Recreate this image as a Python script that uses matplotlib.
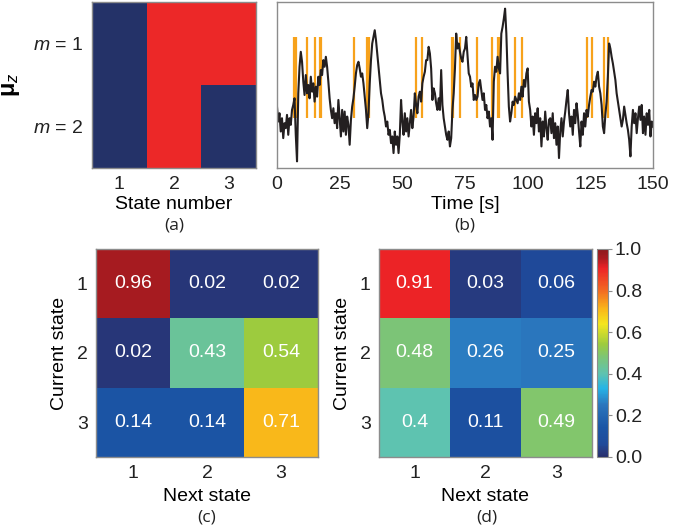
import numpy as np
import matplotlib
matplotlib.use("Agg")
import matplotlib.pyplot as plt
from matplotlib.colors import LinearSegmentedColormap, ListedColormap

plt.rcParams['font.family'] = ['Liberation Sans', 'DejaVu Sans']
plt.rcParams['mathtext.fontset'] = 'custom'
plt.rcParams['mathtext.rm'] = 'Liberation Sans'
plt.rcParams['mathtext.it'] = 'Liberation Sans:italic'
plt.rcParams['mathtext.bf'] = 'Liberation Sans:bold'

# ---- data ----
# (a) dipole pattern per state
state_labels = ['1', '2', '3']
mu_labels = ['$m$ = 1', '$m$ = 2']
mu_pattern = [[0, 1, 1],
              [0, 1, 0]]

# (b) trace, 0.5 s sampling, arbitrary units (0 = bottom, 100 = top)
signal = [
    37, 28, 33, 22, 30, 18, 27, 24, 32, 20,
    30, 26, 35, 38, 42, 20, 4, 45, 61, 70,
    64, 52, 44, 56, 45, 50, 42, 55, 46, 51,
    40, 49, 43, 55, 50, 59, 56, 65, 61, 67,
    61, 52, 42, 35, 30, 36, 27, 33, 24, 41,
    30, 19, 35, 22, 34, 20, 31, 26, 14, 29,
    37, 42, 49, 57, 62, 64, 60, 55, 57, 51,
    43, 35, 24, 33, 51, 65, 75, 79, 83, 77,
    69, 61, 53, 45, 41, 35, 31, 25, 28, 20,
    23, 15, 19, 9, 22, 14, 19, 9, 20, 41,
    28, 20, 33, 22, 30, 19, 27, 35, 24, 31,
    45, 38, 33, 43, 46, 40, 51, 55, 58, 65,
    65, 73, 69, 60, 41, 48, 45, 39, 35, 42,
    35, 59, 38, 30, 25, 20, 17, 22, 13, 18,
    35, 45, 60, 81, 72, 75, 70, 66, 64, 70,
    72, 79, 68, 57, 55, 49, 51, 41, 44, 41,
    43, 51, 53, 47, 41, 45, 35, 38, 30, 34,
    25, 30, 17, 52, 61, 58, 67, 60, 57, 81,
    85, 90, 96, 81, 57, 37, 28, 33, 40, 38,
    43, 41, 39, 45, 41, 49, 43, 53, 49, 57,
    60, 40, 35, 25, 31, 20, 33, 27, 36, 22,
    30, 13, 28, 19, 34, 24, 17, 29, 30, 21,
    33, 18, 27, 14, 25, 6, 22, 30, 19, 28,
    34, 41, 47, 33, 25, 31, 20, 35, 27, 39,
    32, 22, 13, 28, 20, 33, 25, 35, 31, 38,
    43, 47, 46, 52, 49, 55, 58, 49, 45, 38,
    25, 21, 32, 40, 55, 75, 72, 67, 63, 58,
    53, 45, 40, 35, 30, 25, 29, 37, 32, 27,
    23, 17, 7, 25, 35, 27, 33, 21, 30, 37,
    29, 38, 21, 31, 20, 33, 26, 35, 19, 28,
    25,
]
switch_times = [6.9, 7.5, 12.0, 15.3, 17.1, 17.5, 30.6, 35.8, 36.9, 55.4, 58.0,
                70.0, 70.4, 73.1, 79.9, 85.6, 88.1, 88.6, 95.0, 97.6,
                123.7, 125.6, 130.3, 132.0]
switch_low, switch_high = 30, 79

# (c), (d) transition matrices
trans_c = [[0.96, 0.02, 0.02],
           [0.02, 0.43, 0.54],
           [0.14, 0.14, 0.71]]
trans_d = [[0.91, 0.03, 0.06],
           [0.48, 0.26, 0.25],
           [0.40, 0.11, 0.49]]

# ---- styling ----
cmap = LinearSegmentedColormap.from_list('tm', [
    (0.00, '#252e6c'), (0.02, '#283779'), (0.06, '#1f4a9a'), (0.14, '#1b55a5'),
    (0.25, '#2b76bd'), (0.33, '#25b4e6'), (0.40, '#5ec3b0'), (0.48, '#7dc576'),
    (0.54, '#9ccb3f'), (0.64, '#f4e61e'), (0.71, '#fab81a'), (0.80, '#f26b22'),
    (0.91, '#ec2327'), (0.96, '#a71c21'), (1.00, '#8b1a1e')])
spine_col = '#8c8c8c'
fs = 14
cap_font = ['Open Sans', 'DejaVu Sans']

fig = plt.figure(figsize=(6.94, 5.31), dpi=100)

def style(ax):
    for s in ax.spines.values():
        s.set_color(spine_col)
        s.set_linewidth(1.0)
    ax.tick_params(length=0, labelsize=fs, colors='#222222', pad=6)

# (a)
ax_a = fig.add_axes([0.1326, 0.6836, 0.2363, 0.3126])
ax_a.imshow(mu_pattern, cmap=ListedColormap(['#243268', '#ec2828']), aspect='auto',
            interpolation='nearest')
ax_a.set_xticks(range(3))
ax_a.set_xticklabels(state_labels)
ax_a.set_yticks(range(2))
ax_a.set_yticklabels(mu_labels)
style(ax_a)
ax_a.set_xlabel('State number', fontsize=fs, labelpad=2)
ax_a.set_ylabel(r'$\mathbf{\mu}_z$', fontsize=fs + 3, labelpad=8)

# (b)
ax_b = fig.add_axes([0.3991, 0.6836, 0.5418, 0.3126])
t = np.linspace(0, 150, len(signal))
ax_b.vlines(switch_times, switch_low, switch_high, color='#f7a21b', lw=1.6, zorder=1)
ax_b.plot(t, signal, color='#231f20', lw=1.5, zorder=2)
ax_b.set_xlim(0, 150)
ax_b.set_ylim(0, 100)
ax_b.set_xticks([0, 25, 50, 75, 100, 125, 150])
ax_b.set_yticks([])
style(ax_b)
ax_b.set_xlabel('Time [s]', fontsize=fs, labelpad=2)

# (c), (d)
def heat(ax, m):
    im = ax.imshow(m, cmap=cmap, vmin=0, vmax=1, aspect='auto', interpolation='nearest')
    for i in range(3):
        for j in range(3):
            ax.text(j, i, f'{m[i][j]:g}', ha='center', va='center', color='white',
                    fontsize=fs)
    ax.set_xticks(range(3))
    ax.set_xticklabels(state_labels)
    ax.set_yticks(range(3))
    ax.set_yticklabels(state_labels)
    style(ax)
    ax.set_xlabel('Next state', fontsize=fs, labelpad=4)
    ax.set_ylabel('Current state', fontsize=fs, labelpad=6)
    return im

ax_c = fig.add_axes([0.1383, 0.1394, 0.3199, 0.3917])
heat(ax_c, trans_c)
ax_d = fig.add_axes([0.5461, 0.1394, 0.3069, 0.3917])
im = heat(ax_d, trans_d)

cax = fig.add_axes([0.8602, 0.1394, 0.0159, 0.3917])
cb = fig.colorbar(im, cax=cax, ticks=[0, 0.2, 0.4, 0.6, 0.8, 1.0])
cb.ax.set_yticklabels(['0.0', '0.2', '0.4', '0.6', '0.8', '1.0'])
cb.outline.set_edgecolor(spine_col)
cb.ax.tick_params(labelsize=fs, length=3, color=spine_col, colors='#222222', pad=2)
cb.ax.tick_params(color=spine_col)

# captions
for x, y, s in [(174, 225, '(a)'), (465, 225, '(b)'), (207, 517, '(c)'), (487, 517, '(d)')]:
    fig.text(x / 694, 1 - y / 531, s, ha='center', va='center', fontsize=12.5,
             family=cap_font, color='#222222')

fig.savefig('out.png', dpi=100)
